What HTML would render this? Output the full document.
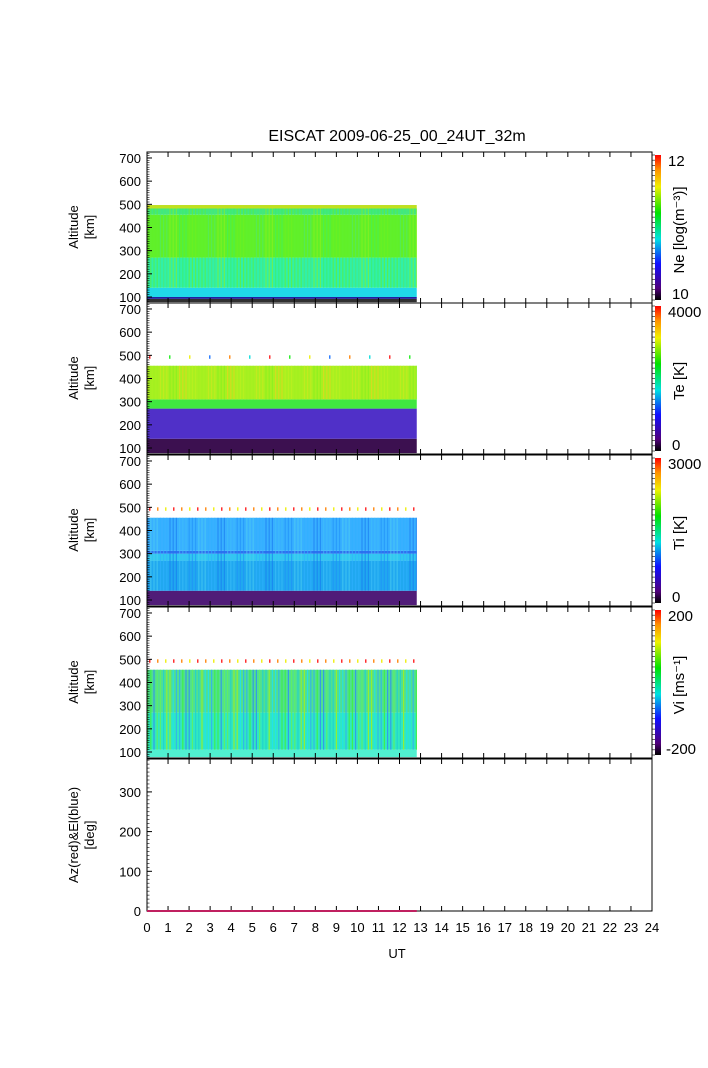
<!DOCTYPE html>
<html><head><meta charset="utf-8"><style>
body{margin:0;background:#fff}
svg text{font-family:"Liberation Sans",Arial,sans-serif;fill:#000}
</style></head><body>
<svg id="c" width="708" height="1063" xmlns="http://www.w3.org/2000/svg">
<defs>
<linearGradient id="rb" x1="0" y1="1" x2="0" y2="0">
<stop offset="0" stop-color="#000"/><stop offset="0.08" stop-color="#50007a"/><stop offset="0.25" stop-color="#1010ff"/><stop offset="0.42" stop-color="#00e0e0"/><stop offset="0.6" stop-color="#00e000"/><stop offset="0.78" stop-color="#f0f000"/><stop offset="0.9" stop-color="#ff9000"/><stop offset="1" stop-color="#ff0000"/>
</linearGradient>
</defs>
<text x="397" y="141" font-size="16" text-anchor="middle">EISCAT 2009-06-25_00_24UT_32m</text>
</svg>
<script>
const svg=document.getElementById('c');
const NS='http://www.w3.org/2000/svg';
function el(t,a,p){const e=document.createElementNS(NS,t);for(const k in a)e.setAttribute(k,a[k]);(p||svg).appendChild(e);return e;}
const X0=147,X1=652;
const xTicks=[0,1,2,3,4,5,6,7,8,9,10,11,12,13,14,15,16,17,18,19,20,21,22,23,24];
const dataEndUT=12.82;
const altTicks=[100,200,300,400,500,600,700];
const azTicks=[0,100,200,300];
const panelNames=['ne','te','ti','vi'];
const cbLabels=[['12','10'],['4000','0'],['3000','0'],['200','-200']];
const cbTitles=['Ne [log(m⁻³)]','Te [K]','Ti [K]','Vi [ms⁻¹]'];
const neBands=[[78,92,'#303030'],[92,100,'#2020a0'],[100,140,'#20d8e8'],[140,270,'#30f0a8'],[270,455,'#60f028'],[455,482,'#40e880'],[482,497,'#c0e020']];
const teBands=[[78,140,'#3c1050'],[140,270,'#5030c8'],[270,310,'#40e840'],[310,455,'#a8f020']];
const tiBands=[[78,140,'#501c78'],[140,270,'#20a8f0'],[270,300,'#30c8f0'],[300,312,'#3070f0'],[312,455,'#38b0ff']];
const viBands=[[78,110,'#50f0d0'],[110,270,'#30e8c0'],[270,455,'#50e090']];
const neStripe=['#70f020','#40f060','#90f020','#50e870','#60f030'];
const teStripe=['#c0f020','#f0d020','#80f020','#d0e820','#a0f020'];
const tiStripe=['#2090f8','#40c0f8','#1878f0','#30b0ff','#50d0f0'];
const viStripe=['#40f040','#3090f0','#60f060','#20d0d0','#a0f020','#20e0f0','#30b0f0'];
const topColors=['#ff3030','#30f030','#f0f020','#3080ff','#ff9020','#20e0e0'];
const bands=[neBands,teBands,tiBands,viBands];
const stripes=[neStripe,teStripe,tiStripe,viStripe];
const tops=[152,303,455,607];
const H=151;
function xs(u){return X0+(X1-X0)*u/24;}
function ys(top,a){return top+145-(a-100)*0.2317;}
for(let p=0;p<4;p++){
  const top=tops[p];
  const g=el('g',{});
  
  
  const xe=xs(dataEndUT);
  bands[p].forEach(b=>{
    const r=el('rect',{x:X0,y:ys(top,b[1]),width:xe-X0,height:ys(top,b[0])-ys(top,b[1]),fill:b[2]},g);
    
    
  });
  const st=stripes[p];
  const lo=p==0?140:(p==1?310:(p==3?110:140)), hi=p==0?482:455;
  for(let i=0;i*1.6<xe-X0;i++){
    if(i%2) continue;
    const c=st[(i*7+Math.floor(i/3))%st.length];
    const r=el('rect',{x:X0+i*1.6,y:ys(top,hi),width:1.2,height:ys(top,lo)-ys(top,hi),fill:c,opacity:p==3?0.85:0.6},g);
    
    
  }
  if(p>0){
    for(let i=0;i*4<xe-X0;i++){
      if(p==1&&i%5) continue;
      if(p>1&&i%2) continue;
      const c=topColors[(i*5)%topColors.length];
      const r=el('rect',{x:X0+i*4+2,y:ys(top,500),width:1.5,height:ys(top,485)-ys(top,500),fill:c},g);
      
      
    }
  }
  const f=el('rect',{x:X0,y:top,width:X1-X0,height:H,fill:'none',stroke:'#000','stroke-width':1});
  
  
  altTicks.forEach(a=>{
    const y=ys(top,a);
    el('line',{x1:X0,x2:X0+5,y1:y,y2:y,stroke:'#000'});
    const t=el('text',{x:X0-6,y:y+5,'font-size':13,'text-anchor':'end'});t.textContent=a;
    
    
  });
  for(let a=80;a<=720;a+=10){const y=ys(top,a);if(y<top||y>top+H)continue;el('line',{x1:X0,x2:X0+2.5,y1:y,y2:y,stroke:'#000','stroke-width':0.6});}
  xTicks.forEach(u=>{el('line',{x1:xs(u),x2:xs(u),y1:top+H,y2:top+H-5,stroke:'#000'});el('line',{x1:xs(u),x2:xs(u),y1:top,y2:top+5,stroke:'#000'});});
  const yl=el('text',{transform:`translate(78,${top+75}) rotate(-90)`,'font-size':13,'text-anchor':'middle'});
  yl.textContent='Altitude';
  
  
  const yl2=el('text',{transform:`translate(94,${top+75}) rotate(-90)`,'font-size':13,'text-anchor':'middle'});
  yl2.textContent='[km]';
  
  
  const cb=el('rect',{x:655,y:top+3,width:6,height:H-6,fill:'url(#rb)'});
  
  
  for(let k=0;k<=28;k++)el('line',{x1:652,x2:655,y1:top+3+k*(H-6)/28,y2:top+3+k*(H-6)/28,stroke:'#000','stroke-width':0.6});
  const l1=el('text',{x:668,y:top+14,'font-size':15});l1.textContent=cbLabels[p][0];
  
  
  const l2=el('text',{x:p==3?666:672,y:top+H-4,'font-size':15});l2.textContent=cbLabels[p][1];
  
  
  const ct=el('text',{transform:`translate(684,${top+78}) rotate(-90)`,'font-size':15,'text-anchor':'middle'});
  ct.textContent=cbTitles[p];
  
  
}
const t5=759,b5=911;
function ya(d){return b5-d*0.397;}
const f5=el('rect',{x:X0,y:t5,width:X1-X0,height:b5-t5,fill:'none',stroke:'#000'});


azTicks.forEach(d=>{const y=ya(d);el('line',{x1:X0,x2:X0+5,y1:y,y2:y,stroke:'#000'});
  const t=el('text',{x:X0-6,y:y+5,'font-size':13,'text-anchor':'end'});t.textContent=d;
  
  });
for(let d=0;d<=380;d+=10)el('line',{x1:X0,x2:X0+2.5,y1:ya(d),y2:ya(d),stroke:'#000','stroke-width':0.6});
xTicks.forEach(u=>{el('line',{x1:xs(u),x2:xs(u),y1:b5,y2:b5-5,stroke:'#000'});el('line',{x1:xs(u),x2:xs(u),y1:t5,y2:t5+5,stroke:'#000'});
  const t=el('text',{x:xs(u),y:932,'font-size':13,'text-anchor':'middle'});t.textContent=u;
  
  });
const azLine=el('line',{x1:X0,x2:xs(dataEndUT),y1:ya(0),y2:ya(0),stroke:'#c02060','stroke-width':2});


const xt=el('text',{x:397,y:958,'font-size':13,'text-anchor':'middle'});xt.textContent='UT';


const a1=el('text',{transform:'translate(78,835) rotate(-90)','font-size':13,'text-anchor':'middle'});a1.textContent='Az(red)&El(blue)';


const a2=el('text',{transform:'translate(94,835) rotate(-90)','font-size':13,'text-anchor':'middle'});a2.textContent='[deg]';


</script>
</body></html>
